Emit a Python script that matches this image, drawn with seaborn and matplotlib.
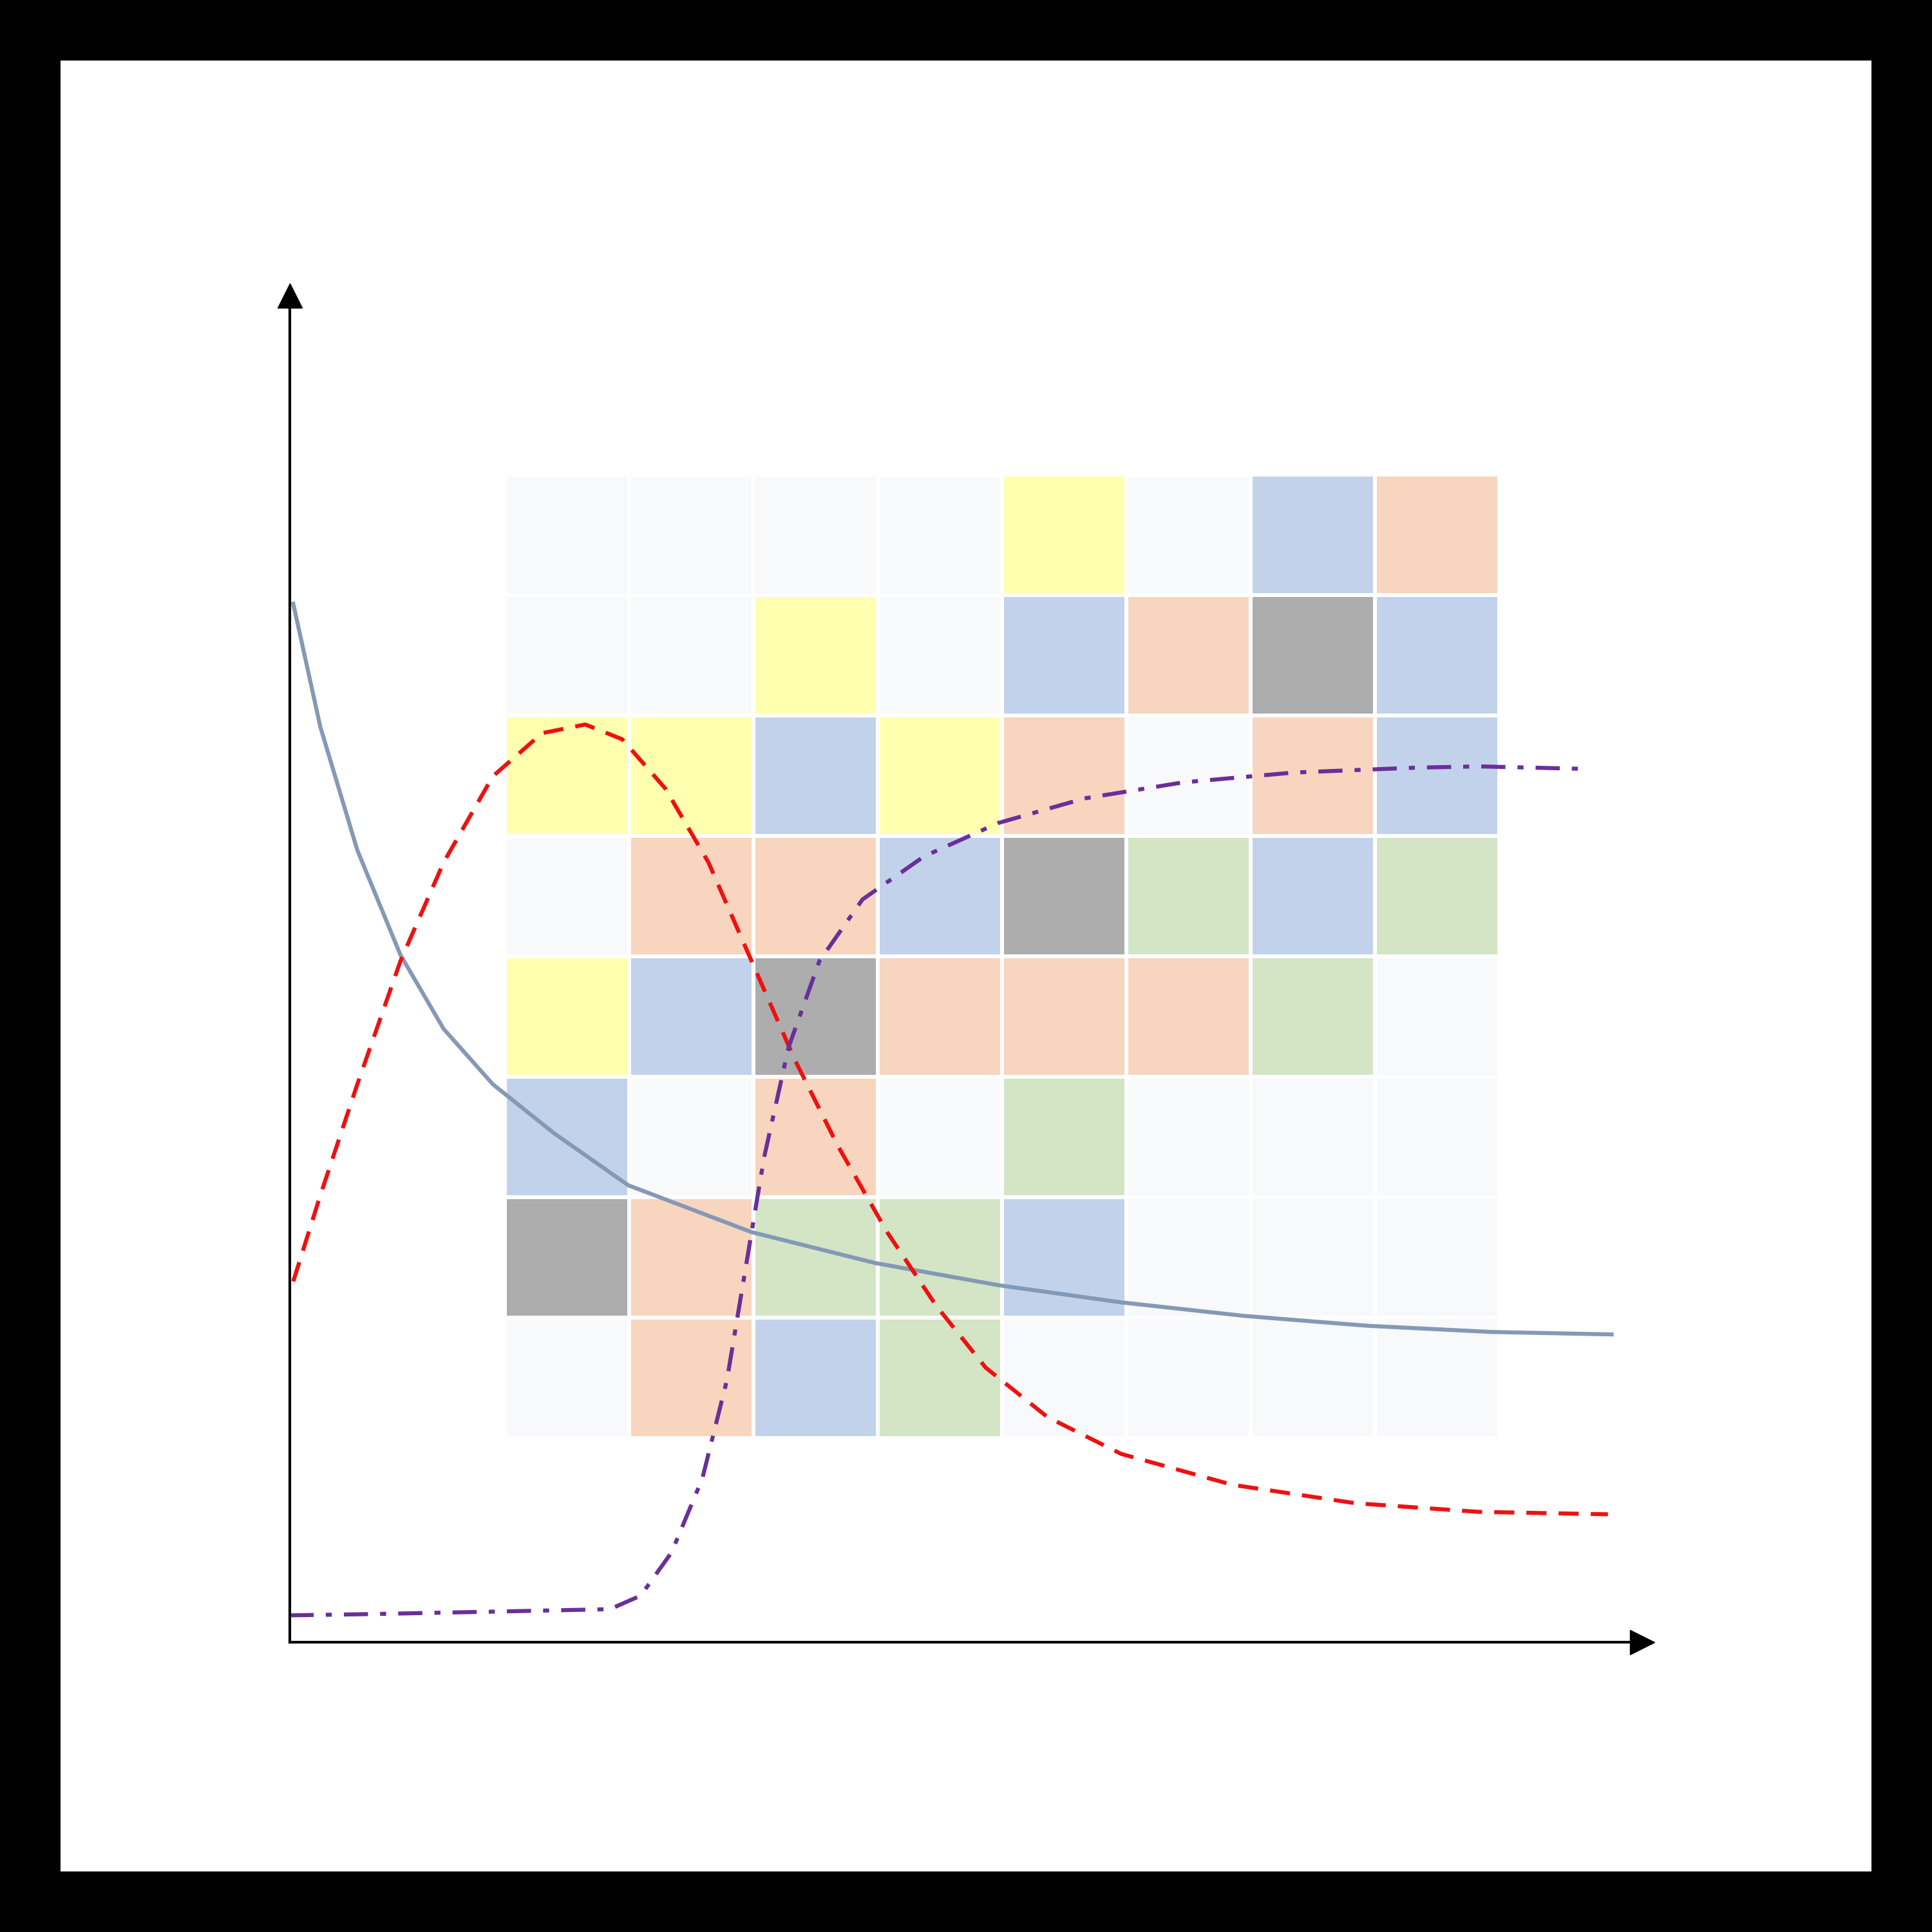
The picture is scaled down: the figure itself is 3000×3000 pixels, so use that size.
import numpy as np
import pandas as pd
import seaborn as sns
import matplotlib.pyplot as plt
from matplotlib.colors import ListedColormap

# Grid categories (rows top to bottom)
grid_rows = [
    "WWWWYWBO",
    "WWYWBOGB",
    "YYBYOWOB",
    "WOOBGNBN",
    "YBGOOONW",
    "BWOWNWWW",
    "GONNBWWW",
    "WOBNWWWW",
]
cat_codes = ["W", "Y", "B", "O", "G", "N"]
cat_colors = ["#f8f9fa", "#ffffb0", "#c3d2eb", "#f8d5bf", "#adadad", "#d3e5c5"]

blue_x = [3,25,55,90,125,165,215,275,375,475,575,675,775,875,975,1073]
blue_y = [843,743,643,558,498,453,413,371,333,308,290,276,265,257,252,250]
red_x = [3,25,55,90,125,165,205,240,270,305,340,375,410,445,485,525,565,615,675,765,865,965,1070]
red_y = [293,363,453,553,633,703,738,745,733,693,633,553,473,403,333,273,223,183,153,128,113,106,104]
pur_x = [0,65,165,260,285,310,335,355,370,385,405,430,465,515,575,645,725,815,915,965,1050]
pur_y = [22,23,25,27,38,73,133,213,303,393,483,553,603,638,665,685,698,706,710,711,709]

fig = plt.figure(figsize=(30, 30), dpi=100, facecolor="black")
b = 49 / 1568
bg = fig.add_axes([b, b, 1 - 2 * b, 1 - 2 * b], zorder=0)
bg.set_facecolor("white")
bg.set_xticks([]); bg.set_yticks([])
for s in bg.spines.values():
    s.set_visible(False)

mat = np.array([[cat_codes.index(c) for c in r] for r in grid_rows])
hax = fig.add_axes([410/1568, (1568-1167)/1568, 807/1568, 782/1568], zorder=1)
sns.heatmap(mat, ax=hax, cmap=ListedColormap(cat_colors), vmin=-0.5, vmax=5.5,
            cbar=False, linewidths=4, linecolor="white", xticklabels=False, yticklabels=False)
hax.set_axis_off()

ax = fig.add_axes([235/1568, 235/1568, 1098/1568, 1093/1568], zorder=2)
ax.patch.set_alpha(0)
sns.lineplot(x=blue_x, y=blue_y, ax=ax, color="#8499b5", lw=4.5)
sns.lineplot(x=red_x, y=red_y, ax=ax, color="#ee1111", lw=4.5, linestyle=(0, (5, 3)))
sns.lineplot(x=pur_x, y=pur_y, ax=ax, color="#6a2f9a", lw=4.5, linestyle=(0, (6, 3, 1.5, 3)))
ax.set_xlim(0, 1098)
ax.set_ylim(0, 1093)
for s in ["top", "right"]:
    ax.spines[s].set_visible(False)
for s in ["left", "bottom"]:
    ax.spines[s].set_linewidth(3)
ax.set_xticks([]); ax.set_yticks([])
ax.plot(1, 0, ">k", markersize=28, transform=ax.transAxes, clip_on=False)
ax.plot(0, 1, "^k", markersize=28, transform=ax.transAxes, clip_on=False)

fig.savefig("out.png", dpi=100, facecolor="black")
